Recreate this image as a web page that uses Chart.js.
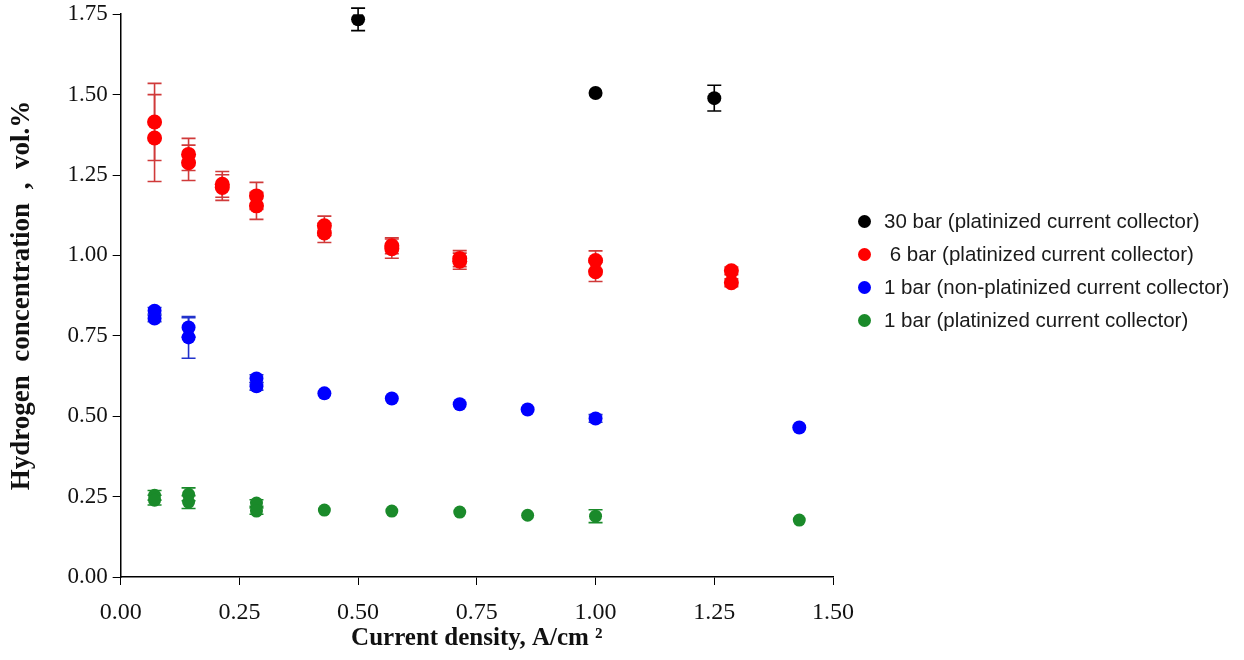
<!DOCTYPE html>
<html>
<head>
<meta charset="utf-8">
<script src="https://cdn.jsdelivr.net/npm/chart.js@4.4.0/dist/chart.umd.min.js"></script>
<style>
  html, body { margin: 0; padding: 0; background: #fff; }
  #wrap { position: relative; width: 1244px; height: 660px; }
  #legend { position: absolute; left: 858px; top: 204px; font-family: "Liberation Sans", Arial, sans-serif; font-size: 20.5px; color: #1a1a1a; }
  #legend div { height: 33px; line-height: 33px; white-space: pre; }
  #legend span { display: inline-block; width: 13px; height: 13px; border-radius: 50%; margin-right: 13px; vertical-align: 0px; }
</style>
</head>
<body>
<div id="wrap">
  <canvas id="myChart" width="1244" height="660"></canvas>
  <div id="legend"></div>
</div>
<script>
// series labels and colours
var names = ['30 bar (platinized current collector)', ' 6 bar (platinized current collector)',
             '1 bar (non-platinized current collector)', '1 bar (platinized current collector)'];
var colors = ['#000000', '#ff0000', '#0000ff', '#1a8a2a'];
var errColors = ['#000000', '#d03a3a', '#2233cc', '#1a8a2a'];

// 30 bar
var x30 = [0.50, 1.00, 1.25];
var y30 = [1.734, 1.505, 1.489];
var e30 = [0.035, 0, 0.04];

// 6 bar
var x6 = [0.0714, 0.0714, 0.143, 0.143, 0.214, 0.214, 0.286, 0.286, 0.429, 0.429, 0.571, 0.571, 0.714, 0.714, 1.00, 1.00, 1.286, 1.286];
var y6 = [1.415, 1.365, 1.314, 1.288, 1.221, 1.211, 1.185, 1.154, 1.092, 1.070, 1.030, 1.021, 0.990, 0.982, 0.984, 0.949, 0.952, 0.915];
var e6 = [0.12, 0.135, 0.05, 0.055, 0.04, 0.04, 0.042, 0.042, 0.03, 0.03, 0.025, 0.03, 0.025, 0.025, 0.03, 0.03, 0.012, 0.012];

// 1 bar non-platinized
var x1n = [0.0714, 0.0714, 0.143, 0.143, 0.286, 0.286, 0.429, 0.571, 0.714, 0.857, 1.00, 1.429];
var y1n = [0.828, 0.804, 0.776, 0.745, 0.617, 0.593, 0.571, 0.555, 0.537, 0.521, 0.493, 0.465];
var e1n = [0.01, 0.01, 0.03, 0.065, 0.012, 0.012, 0, 0, 0, 0, 0.012, 0];

// 1 bar platinized
var x1p = [0.0714, 0.0714, 0.143, 0.143, 0.286, 0.286, 0.429, 0.571, 0.714, 0.857, 1.00, 1.429];
var y1p = [0.254, 0.239, 0.257, 0.233, 0.230, 0.205, 0.208, 0.205, 0.202, 0.192, 0.189, 0.177];
var e1p = [0.015, 0.015, 0.02, 0.02, 0.01, 0.01, 0, 0, 0, 0, 0.02, 0];

var xTicks = [0, 0.25, 0.5, 0.75, 1.0, 1.25, 1.5];
var yTicks = [0, 0.25, 0.5, 0.75, 1.0, 1.25, 1.5, 1.75];

function pts(xs, ys, es) {
  return xs.map(function (x, i) { return { x: x, y: ys[i], e: es[i] }; });
}

var all = [pts(x30, y30, e30), pts(x6, y6, e6), pts(x1n, y1n, e1n), pts(x1p, y1p, e1p)];
var radii = [7, 7.5, 7, 6.5];

var datasets = all.map(function (d, i) {
  return {
    label: names[i],
    data: d,
    backgroundColor: colors[i],
    borderColor: colors[i],
    pointRadius: radii[i],
    pointHoverRadius: radii[i],
    borderWidth: 0
  };
});

// error bars drawn through the scales
var errorBars = {
  id: 'errorBars',
  beforeDatasetsDraw: function (chart) {
    var c = chart.ctx, xs = chart.scales.x, ys = chart.scales.y;
    c.save();
    chart.data.datasets.forEach(function (ds, di) {
      c.strokeStyle = errColors[di];
      c.lineWidth = 1.6;
      ds.data.forEach(function (p) {
        if (!p.e) return;
        var px = xs.getPixelForValue(p.x);
        var top = ys.getPixelForValue(p.y + p.e);
        var bot = ys.getPixelForValue(p.y - p.e);
        var w = 7;
        c.beginPath();
        c.moveTo(px, top); c.lineTo(px, bot);
        c.moveTo(px - w, top); c.lineTo(px + w, top);
        c.moveTo(px - w, bot); c.lineTo(px + w, bot);
        c.stroke();
      });
    });
    c.restore();
  }
};

var serif = '"Liberation Serif", "Times New Roman", serif';

var config = {
  type: 'scatter',
  data: { datasets: datasets },
  options: {
    responsive: false,
    animation: false,
    layout: { padding: { left: 2, top: 3.8, right: 411, bottom: 8.5 } },
    plugins: {
      legend: { display: false },
      tooltip: { enabled: false }
    },
    scales: {
      x: {
        type: 'linear',
        min: 0, max: 1.5,
        afterBuildTicks: function (s) { s.ticks = xTicks.map(function (v) { return { value: v }; }); },
        afterFit: function (s) { s.height = 74.5; },
        grid: { display: true, drawOnChartArea: false, drawTicks: true, tickLength: 8, color: '#000' },
        border: { display: true, color: '#000', width: 1.5 },
        ticks: {
          color: '#111',
          font: { family: serif, size: 24 },
          padding: 13,
          callback: function (v) { return Number(v).toFixed(2); }
        },
        title: {
          display: true,
          text: 'Current density, A/cm ²',
          color: '#111',
          font: { family: serif, size: 25, weight: 'bold', lineHeight: 1 },
          padding: { top: 0, bottom: 0 }
        }
      },
      y: {
        type: 'linear',
        min: 0, max: 1.75,
        afterBuildTicks: function (s) { s.ticks = yTicks.map(function (v) { return { value: v }; }); },
        grid: { display: true, drawOnChartArea: false, drawTicks: true, tickLength: 8, color: '#000' },
        border: { display: true, color: '#000', width: 1.5 },
        ticks: {
          color: '#111',
          font: { family: serif, size: 23, lineHeight: 0.8 },
          padding: 5,
          callback: function (v) { return Number(v).toFixed(2); }
        },
        title: {
          display: true,
          text: 'Hydrogen  concentration  ,  vol.%',
          color: '#111',
          font: { family: serif, size: 27, weight: 'bold' },
          padding: { top: 4, bottom: 24 }
        }
      }
    }
  },
  plugins: [errorBars]
};

var ctx = document.getElementById('myChart').getContext('2d');
var myChart = new Chart(ctx, config);

// legend as text next to the chart
var leg = document.getElementById('legend');
names.forEach(function (n, i) {
  var row = document.createElement('div');
  var dot = document.createElement('span');
  dot.style.background = colors[i];
  row.appendChild(dot);
  row.appendChild(document.createTextNode(n));
  leg.appendChild(row);
});
</script>
</body>
</html>
